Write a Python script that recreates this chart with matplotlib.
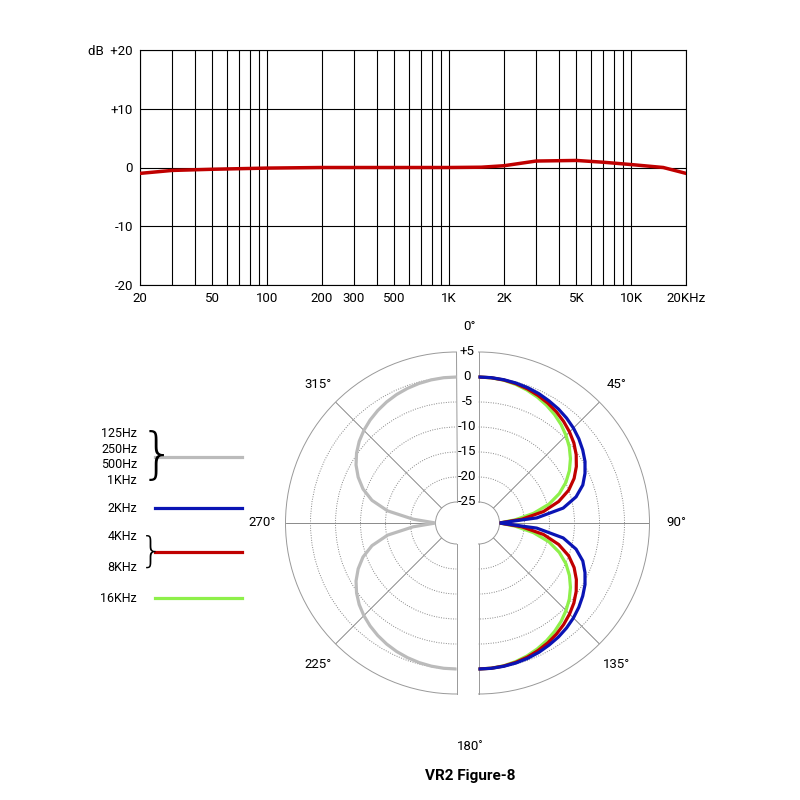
import numpy as np
import matplotlib
matplotlib.use("Agg")
import matplotlib.pyplot as plt
from matplotlib.lines import Line2D

plt.rcParams["font.family"] = "Roboto"

# frequency response
freq = [20, 30, 50, 100, 200, 500, 1000, 1500, 2000, 3000, 5000, 7000, 10000, 15000, 20000]
resp = [-1.0, -0.5, -0.3, -0.1, 0.0, 0.0, 0.0, 0.05, 0.3, 1.1, 1.2, 0.9, 0.5, 0.0, -1.0]
xtick_vals = [20, 50, 100, 200, 300, 500, 1000, 2000, 5000, 10000, 20000]
xtick_labels = ["20", "50", "100", "200", "300", "500", "1K", "2K", "5K", "10K", "20KHz"]
ytick_vals = [-20, -10, 0, 10, 20]
ytick_labels = ["-20", "-10", "0", "+10", "dB  +20"]

# polar pattern (dB), angles 0..90 deg, mirrored to 180
ang = [0, 5, 10, 15, 20, 25, 30, 35, 40, 45, 50, 55, 60, 65, 70, 75, 80, 85, 90]
grey_db = [0, -0.03, -0.13, -0.3, -0.54, -0.85, -1.25, -1.74, -2.32, -3.0, -3.8, -4.8,
           -6.0, -7.5, -9.3, -11.7, -15.2, -20.5, -25]
blue_db = [0, -0.02, -0.1, -0.22, -0.4, -0.65, -1.0, -1.35, -1.8, -2.35, -3.0, -3.75,
           -4.6, -5.7, -7.0, -9.0, -12.0, -17.5, -25]
red_db = [0, -0.04, -0.15, -0.35, -0.65, -1.05, -1.5, -2.05, -2.7, -3.45, -4.3, -5.35,
          -6.6, -8.1, -10.0, -12.6, -16.0, -20.5, -25]
green_db = [0, -0.05, -0.2, -0.5, -0.9, -1.4, -2.0, -2.7, -3.5, -4.45, -5.5, -6.75,
            -8.2, -9.9, -12.0, -14.6, -18.0, -21.8, -25]
ring_vals = [5, 0, -5, -10, -15, -20, -25]
ring_labels = ["+5", "0", "-5", "-10", "-15", "-20", "-25"]
angle_labels = {0: "0°", 45: "45°", 90: "90°", 135: "135°", 180: "180˚", 225: "225°", 270: "270°", 315: "315°"}

fig = plt.figure(figsize=(8, 8), dpi=100)
W = H = 800.0

# ---- top chart
ax = fig.add_axes([140 / W, 1 - 285 / H, 546 / W, 235 / H])
ax.set_xscale("log")
ax.set_xlim(20, 20000)
ax.set_ylim(-20, 20)
ax.plot(freq, resp, color="#c00000", lw=2.5, zorder=3)
ax.set_xticks(xtick_vals)
ax.set_xticklabels(xtick_labels, fontsize=9.5)
ax.set_yticks(ytick_vals)
ax.set_yticklabels(ytick_labels, fontsize=9.5)
ax.xaxis.set_minor_locator(matplotlib.ticker.LogLocator(base=10, subs=np.arange(2, 10)))
ax.xaxis.set_minor_formatter(matplotlib.ticker.NullFormatter())
ax.grid(True, which="both", axis="x", color="black", lw=0.8)
ax.grid(True, which="major", axis="y", color="black", lw=0.8)
ax.tick_params(which="both", length=0, pad=5)
for s in ax.spines.values():
    s.set_color("black"); s.set_linewidth(0.8)

# ---- polar halves
cx, cy, R, gap = 467.5, 523.0, 171.0, 11.0
R0 = -29.2
theta_half = np.deg2rad(np.array(ang + [180 - a for a in ang[::-1][1:]]))
def mirror(v):
    return list(v) + list(v[::-1][1:])

def style_polar(p, tmin, tmax, spokes):
    p.set_theta_zero_location("N")
    p.set_theta_direction(-1)
    p.set_thetamin(tmin); p.set_thetamax(tmax)
    p.set_ylim(-25, 5)
    p.set_rorigin(R0)
    p.set_yticks(ring_vals[1:-1])
    p.set_yticklabels([])
    p.set_xticks(np.deg2rad(spokes))
    p.set_xticklabels([])
    p.grid(True, axis="y", color="#888888", lw=0.7, ls=(0, (1, 1.5)))
    p.grid(True, axis="x", color="#777777", lw=0.6)
    for s in p.spines.values():
        s.set_color("#999999"); s.set_linewidth(0.7)
    p.tick_params(length=0)

def half_rect(xc):
    return [(xc - R) / W, (H - cy - 2 * R) / H, 2 * R / W, 4 * R / H]

pr = fig.add_axes(half_rect(cx + gap + R / 2), projection="polar")
style_polar(pr, 0, 180, [45, 90, 135])
pr.plot(theta_half, mirror(green_db), color="#8ef04a", lw=2.3, zorder=3)
pr.plot(theta_half, mirror(red_db), color="#c00000", lw=2.3, zorder=4)
pr.plot(theta_half, mirror(blue_db), color="#0a14b4", lw=2.3, zorder=5)

pl = fig.add_axes(half_rect(cx - gap - R / 2), projection="polar")
style_polar(pl, 180, 360, [225, 270, 315])
pl.plot(2 * np.pi - theta_half, mirror(grey_db), color="#bbbbbb", lw=2.3, zorder=3)

# radial labels in gap
for v, lab in zip(ring_vals, ring_labels):
    r = (v - R0) * 5.0
    fig.text(cx / W, 1 - (cy - r) / H, lab, ha="center", va="center", fontsize=9.5,
             bbox=dict(fc="white", ec="none", pad=0.5))

ang_pos = {0: (470, 327), 45: (617, 385), 90: (676, 522), 135: (617, 665),
           180: (470, 747), 225: (318, 665), 270: (262, 522), 315: (318, 385)}
for a, lab in angle_labels.items():
    x, y = ang_pos[a]
    fig.text(x / W, 1 - y / H, lab, ha="center", va="center", fontsize=9.5)

fig.text(470 / W, 1 - 776 / H, "VR2 Figure-8", ha="center", va="center", fontsize=11, fontweight="bold")

# ---- legend
leg_items = [("125Hz\n250Hz\n500Hz\n1KHz", "#bbbbbb", 457, True, 40),
             ("2KHz", "#0a14b4", 508, False, 0),
             ("4KHz\n\n8KHz", "#c00000", 552, True, 26),
             ("16KHz", "#8ef04a", 598, False, 0)]
for lab, col, y, brace, bh in leg_items:
    fig.add_artist(Line2D([155 / W, 242 / W], [1 - y / H, 1 - y / H], color=col, lw=2.3))
    fig.text(137 / W, 1 - y / H, lab, ha="right", va="center", fontsize=9, linespacing=1.25)
    if brace:
        fig.text(140 / W, 1 - y / H, "}", ha="left", va="center", fontsize=bh,
                 fontweight="light", family="DejaVu Sans")

fig.savefig("out.png", dpi=100, facecolor="white")
